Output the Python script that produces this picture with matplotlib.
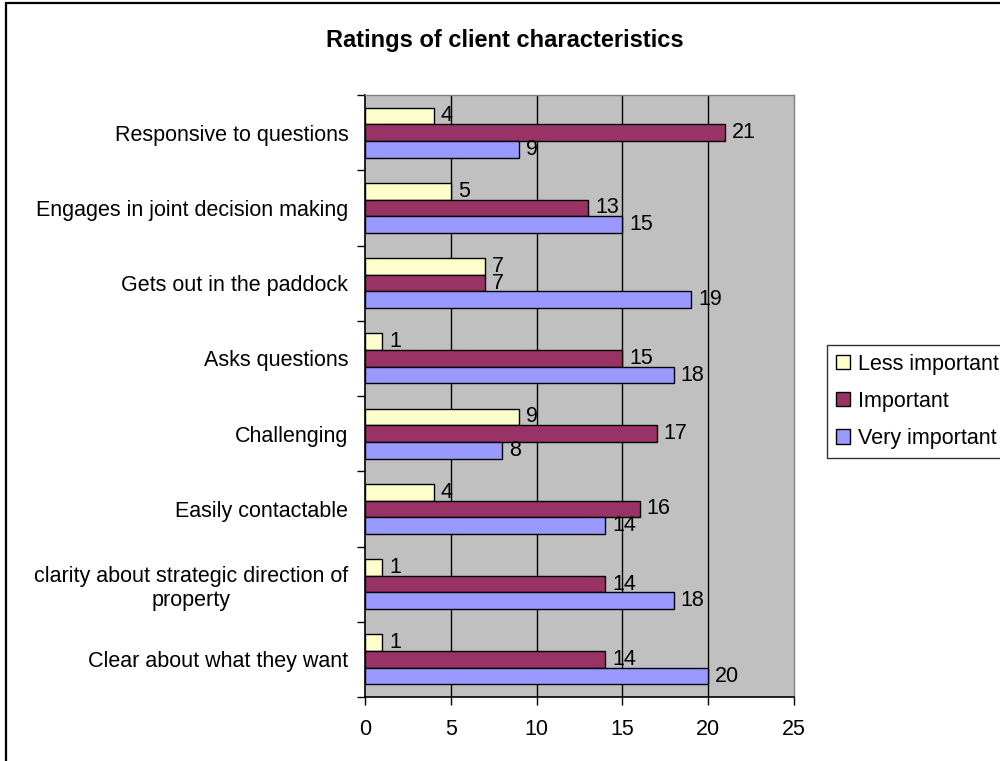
import matplotlib
matplotlib.use("Agg")
import matplotlib.pyplot as plt
from matplotlib.patches import Rectangle, Patch

plt.rcParams["font.family"] = ["Liberation Sans", "DejaVu Sans"]

categories = [
    "Responsive to questions",
    "Engages in joint decision making",
    "Gets out in the paddock",
    "Asks questions",
    "Challenging",
    "Easily contactable",
    "clarity about strategic direction of\nproperty",
    "Clear about what they want",
]
series_names = ["Less important", "Important", "Very important"]
less_important = [4, 5, 7, 1, 9, 4, 1, 1]
important = [21, 13, 7, 15, 17, 16, 14, 14]
very_important = [9, 15, 19, 18, 8, 14, 18, 20]
x_ticks = [0, 5, 10, 15, 20, 25]

colors = ["#FFFFCC", "#993366", "#9999FF"]
W, H = 1000, 761
FS = 15.5

fig = plt.figure(figsize=(W / 100, H / 100), dpi=100)
fig.patch.set_facecolor("white")

# chart-area border (left and top edges visible)
fig.patches.append(Rectangle((6 / W, -0.2), 1.5, 1 - 3 / H + 0.2,
                             transform=fig.transFigure, fill=False,
                             edgecolor="black", lw=1.6, zorder=0))

left, right, top, bottom = 365, 794, 95, 697
ax = fig.add_axes([left / W, 1 - bottom / H, (right - left) / W, (bottom - top) / H])
ax.set_facecolor("#C0C0C0")

n = len(categories)
h = 1 / (3 + 1.5)
centers = [i + 0.5 for i in range(n)]
all_series = [less_important, important, very_important]
offsets = [-h, 0, h]
for vals, col, off, name in zip(all_series, colors, offsets, series_names):
    bars = ax.barh([c + off for c in centers], vals, height=h, color=col,
                   edgecolor="black", linewidth=1.0, label=name, zorder=3)
    ax.bar_label(bars, labels=[str(v) for v in vals], padding=5, fontsize=FS,
                 color="black", zorder=4)

ax.set_xlim(0, 25)
ax.set_ylim(n, 0)
ax.set_xticks(x_ticks)
ax.set_xticklabels([str(t) for t in x_ticks], fontsize=FS)
ax.tick_params(axis="x", length=6, width=1, direction="out", pad=10)

ax.set_yticks(range(n + 1))
ax.set_yticklabels([])
ax.tick_params(axis="y", which="major", length=6, width=1, direction="out")
ax.set_yticks(centers, minor=True)
ax.set_yticklabels(categories, minor=True, fontsize=FS, multialignment="center")
ax.tick_params(axis="y", which="minor", length=0, pad=12)

for xv in x_ticks[1:-1]:
    ax.axvline(xv, color="black", lw=1, zorder=1)

for s in ["left", "bottom"]:
    ax.spines[s].set_color("black")
    ax.spines[s].set_linewidth(1.2)
for s in ["top", "right"]:
    ax.spines[s].set_color("#808080")
    ax.spines[s].set_linewidth(1.0)

fig.text(505 / W, 1 - 41 / H, "Ratings of client characteristics",
         ha="center", va="center", fontsize=17, fontweight="bold")

handles = [Patch(facecolor=c, edgecolor="black", lw=1.0) for c in colors]
leg = fig.legend(handles, series_names, loc="upper left",
                 bbox_to_anchor=(827 / W, 1 - 345 / H), fontsize=FS,
                 frameon=True, fancybox=False, edgecolor="black",
                 handlelength=0.65, handleheight=0.65, handletextpad=0.4,
                 labelspacing=0.75, borderpad=0.4, borderaxespad=0)
leg.get_frame().set_linewidth(1.0)

fig.savefig("out.png", dpi=100)
